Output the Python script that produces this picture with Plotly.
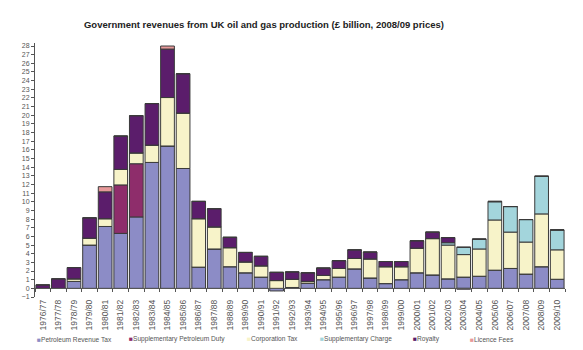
import plotly.graph_objects as go

years = ["1976/77","1977/78","1978/79","1979/80","1980/81","1981/82","1982/83","1983/84",
         "1984/85","1985/86","1986/87","1987/88","1988/89","1989/90","1990/91","1991/92",
         "1992/93","1993/94","1994/95","1995/96","1996/97","1997/98","1998/99","1999/00",
         "2000/01","2001/02","2002/03","2003/04","2004/05","2005/06","2006/07","2007/08",
         "2008/09","2009/10"]

prt = [0, 0, 0.8, 5.0, 7.15, 6.35, 8.25, 14.55, 16.45, 13.85, 2.45, 4.55, 2.5, 1.8, 1.3, -0.3,
       0.1, 0.6, 1.0, 1.3, 2.25, 1.2, 0.55, 1.0, 1.8, 1.55, 1.1, 1.3, 1.4, 2.1, 2.3, 1.65, 2.5, 1.05]
spd = [0, 0, 0, 0, 0, 5.6, 6.15, 0, 0, 0, 0, 0, 0, 0, 0, 0,
       0, 0, 0, 0, 0, 0, 0, 0, 0, 0, 0, 0, 0, 0, 0, 0, 0, 0]
ct = [0, 0, 0.3, 0.8, 0.9, 1.8, 1.25, 2.0, 5.6, 6.4, 5.6, 2.55, 2.2, 1.25, 1.3, 0.9,
      0.95, 0.2, 0.5, 1.0, 1.2, 2.2, 1.95, 1.5, 2.85, 4.2, 3.9, 2.6, 3.15, 5.8, 4.2, 3.7, 6.1, 3.4]
sc = [0, 0, 0, 0, 0, 0, 0, 0, 0, 0, 0, 0, 0, 0, 0, 0,
      0, 0, 0, 0, 0, 0, 0, 0, 0, 0, 0.27, 0.85, 1.1, 2.1, 2.95, 2.6, 4.35, 2.3]
royalty = [0.4, 1.1, 1.3, 2.35, 3.1, 3.85, 4.3, 4.8, 5.6, 4.55, 2.0, 2.1, 1.2, 1.1, 1.1, 0.95,
           0.85, 1.0, 0.85, 0.9, 1.0, 0.8, 0.6, 0.6, 0.85, 0.75, 0.6, -0.1, 0.05, 0.05, 0, 0, 0, 0]
licence = [0, 0, 0, 0, 0.6, 0, 0, 0, 0.35, 0, 0, 0, 0, 0, 0, 0,
           0, 0, 0, 0, 0, 0, 0, 0, 0, 0, 0, 0, 0, 0, 0, 0, 0, 0]

series_names = ["Petroleum Revenue Tax", "Supplementary Petroleum Duty", "Corporation Tax",
                "Supplementary Charge", "Royalty", "Licence Fees"]
series_values = [prt, spd, ct, sc, royalty, licence]
colors = ["#8c8cc6", "#8e2d6b", "#f7f3c9", "#a3d5dc", "#5b1d6b", "#e8999a"]
legend_x_px = [35, 127, 245, 318, 411, 468]

W, H = 583, 350
ML, MR, MT, MB = 35, 18, 43, 52.5
YMIN, YMAX = -1, 28.35

fig = go.Figure()
for name, vals, col in zip(series_names, series_values, colors):
    fig.add_trace(go.Bar(x=years, y=vals, name=name, marker=dict(color=col, line=dict(color="#3a3a3a", width=1)),
                         showlegend=False))

# helper trace for the zero-level category axis ticks
fig.add_trace(go.Scatter(x=years, y=[0]*len(years), xaxis="x2", mode="lines",
                         line=dict(width=0), hoverinfo="skip", showlegend=False))

zero_pos = (0 - YMIN) / (YMAX - YMIN)

annotations = []
plot_w = W - ML - MR
plot_h = H - MT - MB
for name, col, px in zip(series_names, colors, legend_x_px):
    annotations.append(dict(
        x=(px - ML) / plot_w, y=-(340 - (H - MB)) / plot_h, xref="paper", yref="paper",
        xanchor="left", yanchor="middle", showarrow=False,
        text=f"<span style='color:{col}'>■</span>{name}",
        font=dict(family="Liberation Sans, Arial, sans-serif", size=6.6, color="#555555")))

fig.update_layout(
    width=W, height=H,
    margin=dict(l=ML, r=MR, t=MT, b=MB, pad=0),
    paper_bgcolor="white", plot_bgcolor="white",
    barmode="relative", bargap=0.12,
    title=dict(text="<b>Government revenues from UK oil and gas production (£ billion, 2008/09 prices)</b>",
               x=264 / W, xref="container", xanchor="center",
               y=1 - 25 / H, yref="container", yanchor="middle",
               font=dict(family="Liberation Sans, Arial, sans-serif", size=9.5, color="#222222")),
    xaxis=dict(type="category", categoryorder="array", categoryarray=years,
               range=[-0.5, len(years) - 0.5],
               showline=False, ticks="", tickangle=-90, showgrid=False, zeroline=False,
               tickfont=dict(family="Liberation Sans, Arial, sans-serif", size=8.5, color="#555555")),
    xaxis2=dict(type="category", categoryorder="array", categoryarray=years,
                range=[-0.5, len(years) - 0.5], overlaying="x", anchor="free", position=zero_pos,
                showline=True, linecolor="#555555", linewidth=1,
                ticks="outside", tickson="boundaries", ticklen=3, tickcolor="#555555",
                showticklabels=False, showgrid=False, zeroline=False),
    yaxis=dict(range=[YMIN, YMAX], dtick=1, tick0=0, showgrid=False, zeroline=False,
               showline=True, linecolor="#555555", linewidth=1,
               ticks="outside", ticklen=3, tickcolor="#555555",
               tickfont=dict(family="Liberation Sans, Arial, sans-serif", size=7, color="#555555")),
    annotations=annotations,
)

fig.write_html("out.html")
